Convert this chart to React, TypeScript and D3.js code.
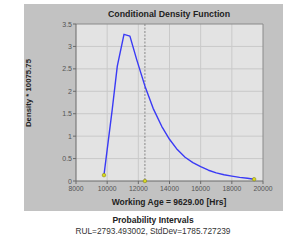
import React from "react";
import * as d3 from "d3";

// curve samples
const ageHrs = [9795, 10320, 10650, 11080, 11460, 11900, 12420, 12950, 13500, 14000, 14500, 15000, 15500, 16000, 16500, 17000, 17500, 18000, 18500, 19000, 19430];
const density = [0.13, 1.58, 2.56, 3.27, 3.23, 2.7, 2.12, 1.62, 1.22, 0.93, 0.7, 0.53, 0.41, 0.32, 0.24, 0.18, 0.14, 0.11, 0.08, 0.06, 0.04];

const markerX = [9795, 12422, 19430];
const markerY = [0.13, 0, 0.04];

const meanLine = 12422.49;

const xTicks = [8000, 10000, 12000, 14000, 16000, 18000, 20000];
const yTicks = [0, 0.5, 1, 1.5, 2, 2.5, 3, 3.5];

const title = "Conditional Density Function";
const yLabel = "Density * 10075.75";
const xLabel = "Working Age = 9629.00 [Hrs]";
const subTitle = "Probability Intervals";
const subText = "RUL=2793.493002, StdDev=1785.727239";

export default function App() {
  const W = 285, H = 240;
  const plot = { left: 76, top: 24, right: 263, bottom: 181 };

  const x = d3.scaleLinear().domain([8000, 20000]).range([plot.left, plot.right]);
  const y = d3.scaleLinear().domain([0, 3.5]).range([plot.bottom, plot.top]);

  const pts = ageHrs.map((a, i) => [a, density[i]] as [number, number]);
  const line = d3.line<[number, number]>()
    .x(d => x(d[0]))
    .y(d => y(d[1]));

  const font = "Arial, 'Liberation Sans', sans-serif";

  return (
    <svg width={W} height={H} style={{ position: "absolute", left: 0, top: 0 }} fontFamily={font}>
      <rect x={0} y={0} width={W} height={H} fill="#fff" />
      <rect x={24} y={4} width={259} height={207} fill="#c2c2c2" />
      <rect x={plot.left} y={plot.top} width={plot.right - plot.left} height={plot.bottom - plot.top} fill="#e3e3e3" />

      {xTicks.slice(1, -1).map(t => (
        <line key={"gx" + t} x1={x(t)} x2={x(t)} y1={plot.top} y2={plot.bottom} stroke="#c9c9c9" strokeWidth={1} />
      ))}
      {yTicks.slice(1, -1).map(t => (
        <line key={"gy" + t} x1={plot.left} x2={plot.right} y1={y(t)} y2={y(t)} stroke="#c9c9c9" strokeWidth={1} />
      ))}

      <line x1={plot.left} x2={plot.right} y1={plot.top} y2={plot.top} stroke="#8a8a8a" />
      <line x1={plot.right} x2={plot.right} y1={plot.top} y2={plot.bottom} stroke="#8a8a8a" />
      <line x1={plot.left} x2={plot.left} y1={plot.top} y2={plot.bottom} stroke="#6a6a6a" />
      <line x1={plot.left} x2={plot.right} y1={plot.bottom} y2={plot.bottom} stroke="#6a6a6a" />

      {yTicks.map(t => (
        <g key={"ty" + t}>
          <line x1={plot.left - 3} x2={plot.left} y1={y(t)} y2={y(t)} stroke="#6a6a6a" />
          <text x={plot.left - 4} y={y(t) + 2.5} fontSize={7} fill="#555" textAnchor="end">{t}</text>
        </g>
      ))}
      {xTicks.map(t => (
        <g key={"tx" + t}>
          <line x1={x(t)} x2={x(t)} y1={plot.bottom} y2={plot.bottom + 3} stroke="#6a6a6a" />
          <text x={x(t)} y={plot.bottom + 10} fontSize={6.8} fill="#555" textAnchor="middle">{t}</text>
        </g>
      ))}

      <line x1={x(meanLine)} x2={x(meanLine)} y1={plot.top} y2={plot.bottom} stroke="#888" strokeWidth={1} strokeDasharray="2,1.5" />

      <path d={line(pts) || ""} fill="none" stroke="#3a3af5" strokeWidth={1.4} strokeLinejoin="round" />

      {markerX.map((m, i) => (
        <circle key={"m" + i} cx={x(m)} cy={y(markerY[i])} r={1.8} fill="#d8d820" stroke="#7a7a10" strokeWidth={0.5} />
      ))}

      <text x={169} y={17} fontSize={8.8} fontWeight="bold" fill="#222" textAnchor="middle">{title}</text>
      <text transform={`translate(31,93) rotate(-90)`} fontSize={7.8} fontWeight="bold" fill="#222" textAnchor="middle">{yLabel}</text>
      <text x={169} y={205} fontSize={8.5} fontWeight="bold" fill="#222" textAnchor="middle">{xLabel}</text>
      <text x={153} y={223} fontSize={8.5} fontWeight="bold" fill="#222" textAnchor="middle">{subTitle}</text>
      <text x={153} y={234} fontSize={8.3} fill="#333" textAnchor="middle">{subText}</text>
    </svg>
  );
}
